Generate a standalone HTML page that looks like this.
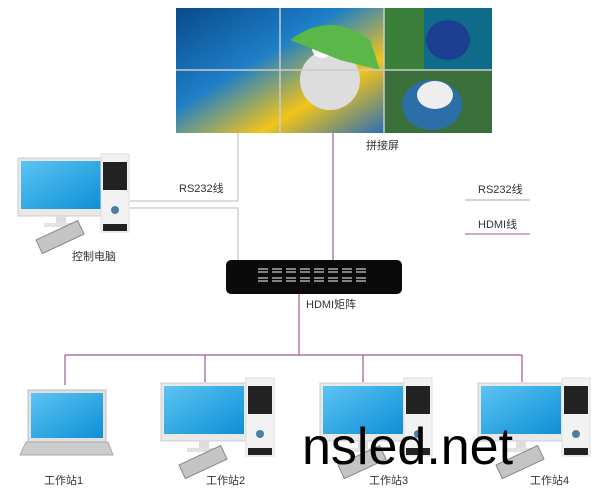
<!DOCTYPE html>
<html><head><meta charset="utf-8"><style>
body{margin:0;width:600px;height:500px;background:#fff;overflow:hidden;font-family:"Liberation Sans","Noto Sans CJK SC",sans-serif}
.t{position:absolute;font-size:11px;color:#333;white-space:nowrap}
</style></head><body>
<svg width="600" height="500" style="position:absolute;left:0;top:0">
<defs>
<linearGradient id="scr" x1="0" y1="0" x2="1" y2="1"><stop offset="0" stop-color="#5cc4f2"/><stop offset="1" stop-color="#0d8fd6"/></linearGradient>
<linearGradient id="par" x1="0" y1="0" x2="1" y2="1"><stop offset="0" stop-color="#0a4a8a"/><stop offset=".4" stop-color="#1e7fc8"/><stop offset=".7" stop-color="#f2c419"/><stop offset="1" stop-color="#2a6fb5"/></linearGradient>
<g id="mon"><rect x="0" y="0" width="86" height="58" fill="#e8e8e8" stroke="#ccc"/><rect x="3" y="3" width="80" height="48" fill="url(#scr)"/><rect x="38" y="58" width="10" height="8" fill="#ddd"/><rect x="26" y="65" width="34" height="4" fill="#e2e2e2"/><g transform="translate(18,82) rotate(-25)"><rect width="46" height="15" fill="#c4c4c4" stroke="#888"/></g></g>
<g id="tow"><rect x="0" y="0" width="28" height="78" fill="#f2f2f2" stroke="#ddd"/><rect x="2" y="8" width="24" height="28" fill="#222"/><circle cx="14" cy="56" r="4" fill="#4a7fa0"/><rect x="2" y="70" width="24" height="7" fill="#222"/></g>
</defs>
<rect x="176" y="8" width="208" height="125" fill="url(#par)"/>
<ellipse cx="330" cy="80" rx="30" ry="30" fill="#ddd"/><circle cx="322" cy="48" r="10" fill="#fff"/><circle cx="322" cy="48" r="4" fill="#222"/>
<path d="M290 40 Q330 10 370 40 L380 70 L340 60 Z" fill="#5ab84a"/>
<rect x="384" y="8" width="108" height="62" fill="#0f6b8a"/><path d="M384 8 h40 v62 h-40z" fill="#3a7f3a"/><ellipse cx="448" cy="40" rx="22" ry="20" fill="#1d3f8f"/>
<rect x="384" y="70" width="108" height="63" fill="#3a6e3a"/><ellipse cx="432" cy="105" rx="30" ry="25" fill="#2c6fa8"/><ellipse cx="435" cy="95" rx="18" ry="14" fill="#eee"/>
<path d="M280 8V133M384 8V133M176 70H492" stroke="#ccc" stroke-width="1.5"/>
<path d="M238 133V201H130M130 208H238V262" stroke="#bbb" fill="none"/>
<g stroke="#9c5a94" fill="none" stroke-width="1.2"><path d="M333 133V261M299 294V355M65 355H522M65 355V385M205 355V382M363 355V382M522 355V382"/></g>
<path d="M465 200H530" stroke="#aaa"/><path d="M465 234H530" stroke="#9c5a94"/>
<rect x="226" y="260" width="176" height="34" rx="5" fill="#0a0a0a"/>
<g fill="none" stroke="#ccc" stroke-width="1.2">
<path d="M258 269h10M272 269h10M286 269h10M300 269h10M314 269h10M328 269h10M342 269h10M356 269h10M258 272h10M272 272h10M286 272h10M300 272h10M314 272h10M328 272h10M342 272h10M356 272h10M258 278h10M272 278h10M286 278h10M300 278h10M314 278h10M328 278h10M342 278h10M356 278h10M258 281h10M272 281h10M286 281h10M300 281h10M314 281h10M328 281h10M342 281h10M356 281h10"/></g>
<use href="#mon" x="18" y="158"/><use href="#tow" x="101" y="154"/>
<rect x="28" y="390" width="78" height="52" fill="#e0e0e0" stroke="#bbb"/><rect x="31" y="393" width="72" height="45" fill="url(#scr)"/>
<path d="M26 442H108L113 455H20Z" fill="#ccc" stroke="#aaa"/>
<use href="#mon" x="161" y="383"/><use href="#tow" x="246" y="378"/>
<use href="#mon" x="320" y="383"/><use href="#tow" x="404" y="378"/>
<use href="#mon" x="478" y="383"/><use href="#tow" x="562" y="378"/>
</svg>
<div class="t" style="left:366px;top:137px">拼接屏</div>
<div class="t" style="left:179px;top:180px">RS232线</div>
<div class="t" style="left:478px;top:181px">RS232线</div>
<div class="t" style="left:478px;top:216px">HDMI线</div>
<div class="t" style="left:72px;top:248px">控制电脑</div>
<div class="t" style="left:306px;top:296px">HDMI矩阵</div>
<div class="t" style="left:44px;top:472px">工作站1</div>
<div class="t" style="left:206px;top:472px">工作站2</div>
<div class="t" style="left:369px;top:472px">工作站3</div>
<div class="t" style="left:530px;top:472px">工作站4</div>
<div style="position:absolute;left:302px;top:417px;font-size:52px;color:#000;font-family:'Liberation Sans',sans-serif;letter-spacing:0">nsled.net</div>
</body></html>
